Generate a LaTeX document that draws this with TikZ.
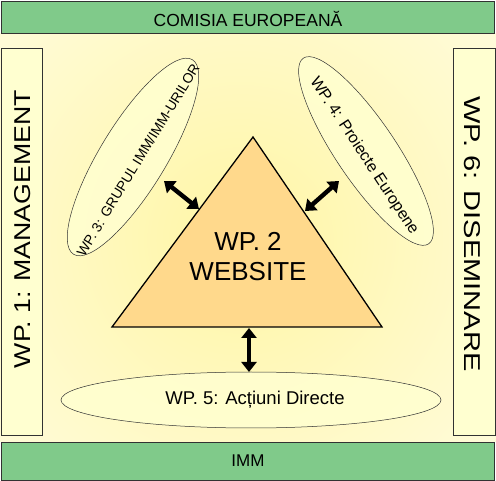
\documentclass[tikz,border=0pt]{standalone}
\usepackage{fontspec}
\setmainfont{Liberation Sans}
\usetikzlibrary{shapes.geometric,arrows.meta}
\definecolor{bargreen}{RGB}{128,202,138}
\definecolor{boxyellow}{RGB}{255,255,208}
\definecolor{triorange}{RGB}{255,217,140}
\definecolor{bgyellow}{RGB}{255,246,165}
\definecolor{edgegray}{RGB}{50,50,50}
\tikzset{
  bar/.style={draw=edgegray, line width=0.9pt, fill=bargreen},
  sidebox/.style={draw=edgegray, line width=0.9pt, fill=boxyellow},
  wpellipse/.style={ellipse, draw=edgegray, line width=0.5pt, fill=boxyellow, fill opacity=0.85, inner sep=0pt},
  biarrow/.style={line width=4.4pt, {Triangle[length=10pt,width=15pt]}-{Triangle[length=10pt,width=15pt]}},
  lbl/.style={inner sep=0pt, text=black}
}
\begin{document}
\begin{tikzpicture}[x=1pt,y=-1pt]
\useasboundingbox (0,0) rectangle (496,481);
% background glow
\begin{scope}
\clip (0,34) rectangle (496,442);
\shade[inner color=bgyellow, outer color=white] (240,240) circle (560pt);
\end{scope}
% top and bottom bars
\draw[bar] (1,1) rectangle (494,33);
\node[lbl, font=\fontsize{17.5}{20}\selectfont] (ce) at (248,19) {COMISIA EUROPEANĂ};
\draw[bar] (1,442) rectangle (494,480);
\node[lbl, font=\fontsize{17}{20}\selectfont] (imm) at (248,461) {IMM};
% side boxes
\draw[sidebox] (1,48) rectangle (42,435);
\node[lbl, rotate=90] (wp1) at (23,229) {\resizebox{278pt}{16pt}{\fontsize{22}{24}\selectfont WP. 1: MANAGEMENT}};
\draw[sidebox] (453,48) rectangle (495,435);
\node[lbl, rotate=-90] (wp6) at (472,234) {\resizebox{275pt}{16pt}{\fontsize{22}{24}\selectfont WP. 6: DISEMINARE}};
% ellipses
\node[wpellipse, minimum width=228pt, minimum height=66pt, rotate=58.6] (wp3) at (133,157) {};
\node[lbl, rotate=58.5, font=\fontsize{13.9}{16}\selectfont] (wp3t) at (138,160) {WP. 3: GRUPUL IMM/IMM-URILOR};
\node[wpellipse, minimum width=224pt, minimum height=60pt, rotate=-56] (wp4) at (366,151) {};
\node[lbl, rotate=-56.7, font=\fontsize{16}{18}\selectfont] (wp4t) at (364,156) {WP. 4: Proiecte Europene};
\node[wpellipse, minimum width=380pt, minimum height=56pt] (wp5) at (251,400) {};
\node[lbl, font=\fontsize{18.5}{20}\selectfont] (wp5t) at (255,400) {WP. 5: Acțiuni Directe};
% triangle
\coordinate (apex) at (253,137);
\coordinate (bl) at (112,327);
\coordinate (br) at (382,327);
\draw[fill=triorange, line width=1.3pt, line join=miter] (apex) -- (br) -- (bl) -- cycle;
\node[lbl, align=center, font=\fontsize{26}{30}\selectfont] (wp2) at (248,257) {WP. 2\\WEBSITE};
% arrows
\coordinate (a1s) at (164,181);
\coordinate (a1e) at (199,209);
\coordinate (a2s) at (339,181);
\coordinate (a2e) at (305,211);
\coordinate (a3s) at (249,328);
\coordinate (a3e) at (249,372);
\draw[biarrow] (a1s) -- (a1e);
\draw[biarrow] (a2s) -- (a2e);
\draw[biarrow] (a3s) -- (a3e);
\end{tikzpicture}
\end{document}
